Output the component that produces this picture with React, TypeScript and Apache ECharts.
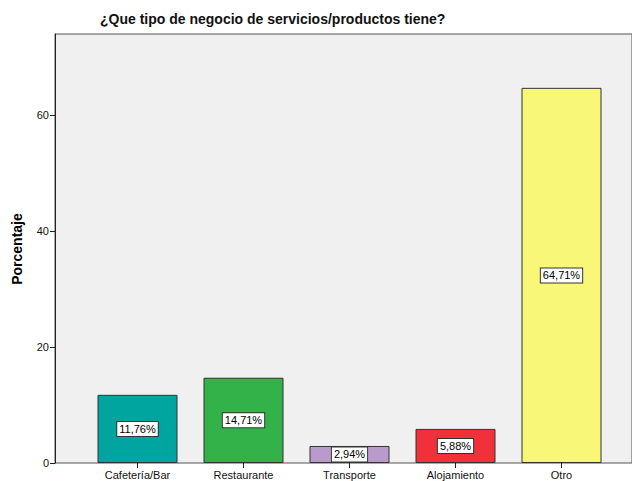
import React, { useEffect, useRef } from "react";
import * as echarts from "echarts";

const categories = ["Cafetería/Bar", "Restaurante", "Transporte", "Alojamiento", "Otro"];
const values = [11.76, 14.71, 2.94, 5.88, 64.71];
const labels = ["11,76%", "14,71%", "2,94%", "5,88%", "64,71%"];
const colors = ["#00a5a0", "#33b249", "#b89bcb", "#f0313b", "#f9f777"];
const yTicks = [0, 20, 40, 60];

export default function App() {
  const ref = useRef<HTMLDivElement>(null);
  useEffect(() => {
    const chart = echarts.init(ref.current!, null, { renderer: "svg" });
    const font = "'Liberation Sans', Arial, sans-serif";
    chart.setOption({
      animation: false,
      backgroundColor: "#ffffff",
      title: {
        text: "¿Que tipo de negocio de servicios/productos tiene?",
        left: 95,
        top: 7,
        textStyle: { fontFamily: font, fontSize: 14, fontWeight: "bold", color: "#111" },
      },
      graphic: [
        {
          type: "text",
          x: 17,
          y: 249,
          rotation: Math.PI / 2,
          style: {
            text: "Porcentaje",
            font: "bold 14px 'Liberation Sans', Arial, sans-serif",
            fill: "#000",
            align: "center",
            verticalAlign: "middle",
          },
        },
      ],
      grid: [
        {
          left: 55,
          right: -10,
          top: 34,
          bottom: 18,
          show: true,
          backgroundColor: "#f0f0f0",
          borderColor: "#555",
          borderWidth: 1,
        },
        { left: 84.5, right: 17.5, top: 34, bottom: 18 },
      ],
      xAxis: [
        { type: "value", gridIndex: 0, show: false, min: 0, max: 1 },
        {
          type: "category",
          gridIndex: 1,
          data: categories,
          axisLine: { show: false },
          axisTick: { show: true, alignWithLabel: true, length: 5, lineStyle: { color: "#222" } },
          axisLabel: { fontFamily: font, fontSize: 11, color: "#111", margin: 6 },
        },
      ],
      yAxis: [
        {
          type: "value",
          gridIndex: 0,
          min: 0,
          max: 74,
          interval: 20,
          splitLine: { show: false },
          axisLine: { show: true, lineStyle: { color: "#222" } },
          axisTick: { show: true, length: 5, customValues: yTicks, lineStyle: { color: "#222" } },
          axisLabel: {
            fontFamily: font,
            fontSize: 11,
            color: "#111",
            margin: 6,
            customValues: yTicks,
          },
        },
        { type: "value", gridIndex: 1, min: 0, max: 74, show: false },
      ],
      series: [
        {
          type: "bar",
          xAxisIndex: 1,
          yAxisIndex: 1,
          barWidth: 80,
          data: values.map((v, i) => ({
            value: v,
            itemStyle: { color: colors[i], borderColor: "#333", borderWidth: 1 },
          })),
          label: {
            show: true,
            position: "inside",
            formatter: (p: any) => labels[p.dataIndex],
            fontFamily: font,
            fontSize: 11,
            color: "#000",
            backgroundColor: "#fff",
            borderColor: "#333",
            borderWidth: 1,
            padding: [2, 2, 1, 2],
          },
        },
      ],
    });
    return () => chart.dispose();
  }, []);
  return <div ref={ref} style={{ width: 632, height: 481, position: "absolute", left: 0, top: 0 }} />;
}
